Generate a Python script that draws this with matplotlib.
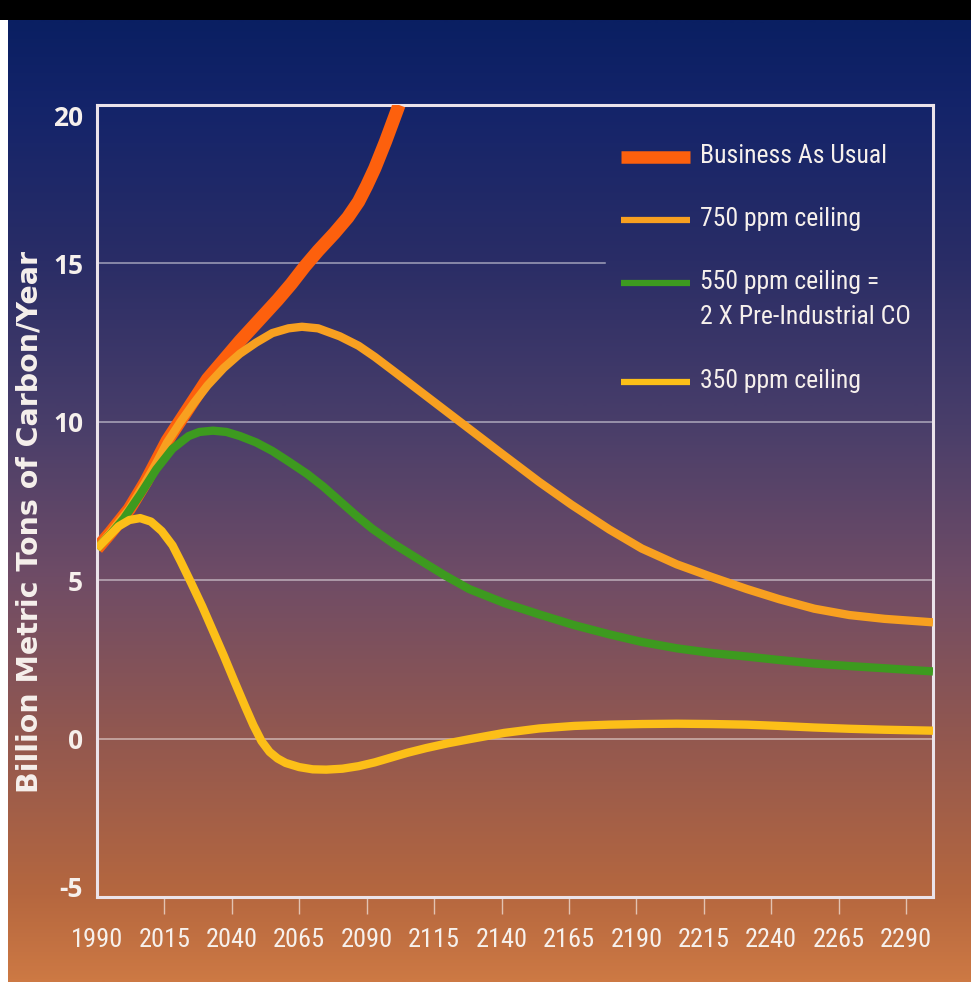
import numpy as np
import matplotlib
matplotlib.use("Agg")
import matplotlib.pyplot as plt
from matplotlib import font_manager
from matplotlib.colors import LinearSegmentedColormap
from matplotlib.lines import Line2D
from matplotlib.patches import Rectangle

# ---------------------------------------------------------------- data
bau_years = [1990, 1995, 2002, 2008, 2012, 2016, 2021, 2026, 2031, 2037, 2043,
             2050, 2057, 2062, 2067, 2072, 2078, 2083, 2087, 2090, 2093, 2097, 2102]
bau_vals = [6.0, 6.5, 7.25, 8.1, 8.75, 9.4, 10.05, 10.7, 11.35, 11.95, 12.55,
            13.2, 13.85, 14.35, 14.9, 15.4, 15.95, 16.45, 16.95, 17.45, 18.0, 18.85, 20.0]

c750_years = [1990, 1995, 2002, 2008, 2012, 2016, 2021, 2026, 2031, 2037, 2043,
              2049, 2055, 2061, 2066, 2072, 2080, 2087, 2093, 2100, 2110, 2120,
              2128, 2140, 2154, 2166, 2180, 2192, 2205, 2218, 2231, 2243, 2256,
              2269, 2282, 2300]
c750_vals = [6.0, 6.5, 7.25, 8.1, 8.7, 9.35, 10.0, 10.6, 11.15, 11.7, 12.15,
             12.5, 12.8, 12.95, 13.0, 12.95, 12.7, 12.4, 12.05, 11.6, 10.95, 10.3,
             9.78, 9.0, 8.1, 7.38, 6.6, 6.0, 5.5, 5.1, 4.72, 4.4, 4.1,
             3.9, 3.78, 3.67]

c550_years = [1990, 1995, 2000, 2006, 2012, 2018, 2024, 2028, 2033, 2038, 2043,
              2049, 2055, 2061, 2068, 2074, 2080, 2086, 2092, 2100, 2110, 2119,
              2128, 2141, 2154, 2167, 2180, 2192, 2205, 2218, 2231, 2243, 2256,
              2269, 2282, 2300]
c550_vals = [6.0, 6.45, 6.95, 7.7, 8.5, 9.15, 9.55, 9.68, 9.72, 9.68, 9.55,
             9.35, 9.08, 8.75, 8.35, 7.95, 7.5, 7.05, 6.63, 6.15, 5.62, 5.15,
             4.72, 4.28, 3.92, 3.58, 3.29, 3.05, 2.85, 2.7, 2.59, 2.48, 2.37,
             2.29, 2.22, 2.12]

c350_years = [1990, 1994, 1998, 2002, 2006, 2010, 2014, 2018, 2021, 2025, 2029,
              2033, 2037, 2041, 2045, 2048, 2051, 2054, 2057, 2060, 2065, 2070,
              2075, 2081, 2087, 2093, 2099, 2105, 2112, 2120, 2128, 2141, 2154,
              2167, 2180, 2192, 2205, 2218, 2231, 2243, 2256, 2269, 2282, 2300]
c350_vals = [6.0, 6.35, 6.7, 6.9, 6.96, 6.85, 6.55, 6.1, 5.6, 4.9, 4.18,
             3.4, 2.62, 1.8, 1.0, 0.42, -0.08, -0.42, -0.63, -0.77, -0.9, -0.97,
             -0.98, -0.95, -0.87, -0.75, -0.6, -0.45, -0.3, -0.15, -0.02, 0.18, 0.32,
             0.4, 0.44, 0.46, 0.47, 0.46, 0.44, 0.4, 0.35, 0.31, 0.28, 0.25]

x_ticks = list(range(1990, 2291, 25))
y_ticks = [-5, 0, 5, 10, 15, 20]

series_labels = ["Business As Usual", "750 ppm ceiling",
                 "550 ppm ceiling =\n2 X Pre-Industrial CO", "350 ppm ceiling"]
series_colors = ["#fd600d", "#f8a020", "#3d9a1f", "#fcbf18"]

# ---------------------------------------------------------------- fonts
available = {f.name for f in font_manager.fontManager.ttflist}


def pick(cands, default="DejaVu Sans"):
    for c in cands:
        if c in available:
            return c
    return default


narrow = pick(["Liberation Sans Narrow", "Roboto Condensed", "Open Sans Condensed"])
narrow_kw = dict(family=narrow)
if narrow == "DejaVu Sans":
    narrow_kw["stretch"] = "condensed"
bold_family = pick(["Open Sans", "Lato", "DejaVu Sans"])

TXT = "#f6f0ec"

# ---------------------------------------------------------------- figure
W, H, DPI = 971, 986, 100
fig = plt.figure(figsize=(W / DPI, H / DPI), dpi=DPI)

# vertical background gradient (navy at top to burnt orange at bottom)
bg = fig.add_axes([0, 0, 1, 1], zorder=-10)
bg.set_axis_off()
stops = [(0.00, "#0a1f62"), (0.09, "#14246a"), (0.25, "#2a2d66"),
         (0.42, "#493e6a"), (0.58, "#6f4c66"), (0.75, "#93584f"),
         (0.91, "#b5673f"), (1.00, "#cd7944")]
cmap = LinearSegmentedColormap.from_list("sky", stops)
grad = np.linspace(0, 1, 512).reshape(-1, 1)
top_px, bot_px, left_px = 20, 982, 8
bg.set_xlim(0, W)
bg.set_ylim(H, 0)
bg.imshow(grad, aspect="auto", cmap=cmap,
          extent=[left_px, W, bot_px, top_px], interpolation="bilinear")
bg.add_patch(Rectangle((0, 0), W, top_px, color="black", lw=0))
bg.add_patch(Rectangle((0, top_px), left_px, H, color="white", lw=0))
bg.add_patch(Rectangle((0, bot_px), W, H - bot_px, color="white", lw=0))

# main axes
x0, x1, y0, y1 = 97, 933, 105, 897
ax = fig.add_axes([x0 / W, 1 - y1 / H, (x1 - x0) / W, (y1 - y0) / H])
ax.patch.set_alpha(0)
ax.set_xlim(1990, 2300)
ax.set_ylim(-5, 20)

for s in ax.spines.values():
    s.set_color("#ebe3ea")
    s.set_linewidth(2.2)

# horizontal grid lines; the 15 line stops short of the legend
grid_kw = dict(color="#ffffff", alpha=0.55, lw=1.1, zorder=1)
ax.axhline(15, xmin=0, xmax=(605 - x0) / (x1 - x0), **grid_kw)
for v in (0, 5, 10):
    ax.axhline(v, **grid_kw)

# curves
curves = [(bau_years, bau_vals, 9.5), (c750_years, c750_vals, 6.0),
          (c550_years, c550_vals, 6.0), (c350_years, c350_vals, 6.0)]
for i, ((xs, ys, lw), col) in enumerate(zip(curves, series_colors)):
    ax.plot(xs, ys, color=col, lw=lw, solid_joinstyle="round",
            solid_capstyle="butt", zorder=3 + i)

# ticks
ax.set_xticks(x_ticks)
ax.set_xticklabels([str(t) for t in x_ticks])
ax.set_yticks(y_ticks)
ax.set_yticklabels([str(t) for t in y_ticks])
ax.tick_params(axis="x", direction="out", length=12, width=1.0,
               color=(1, 1, 1, 0.6), pad=10, labelsize=19, labelcolor=TXT)
ax.tick_params(axis="y", length=0, pad=10, labelsize=19, labelcolor=TXT)
ax.xaxis.get_major_ticks()[0].tick1line.set_visible(False)
for lab in ax.get_xticklabels():
    lab.set_fontfamily(narrow_kw["family"])
    if "stretch" in narrow_kw:
        lab.set_fontstretch(narrow_kw["stretch"])
for lab in ax.get_yticklabels():
    lab.set_fontfamily(bold_family)
    lab.set_fontweight("bold")
ylabs = ax.get_yticklabels()
ylabs[0].set_verticalalignment("baseline")
ylabs[-1].set_verticalalignment("top")

fig.text(30 / W, 1 - 522 / H, "Billion Metric Tons of Carbon/Year",
         rotation=90, ha="center", va="center", color=TXT,
         fontsize=20.5, fontweight="bold", family="DejaVu Sans")

# legend
leg_rows = [157, 220, 283, 382]
leg_lw = [9.0, 4.5, 4.5, 4.5]
for lab, col, yy, lw in zip(series_labels, series_colors, leg_rows, leg_lw):
    fig.add_artist(Line2D([621 / W, 690 / W], [1 - yy / H, 1 - yy / H],
                          color=col, lw=lw, solid_capstyle="butt"))
    fig.text(700 / W, 1 - (yy - 13) / H, lab, ha="left", va="top",
             color=TXT, fontsize=18.5, linespacing=1.6, **narrow_kw)

fig.savefig("out.png", dpi=DPI)
